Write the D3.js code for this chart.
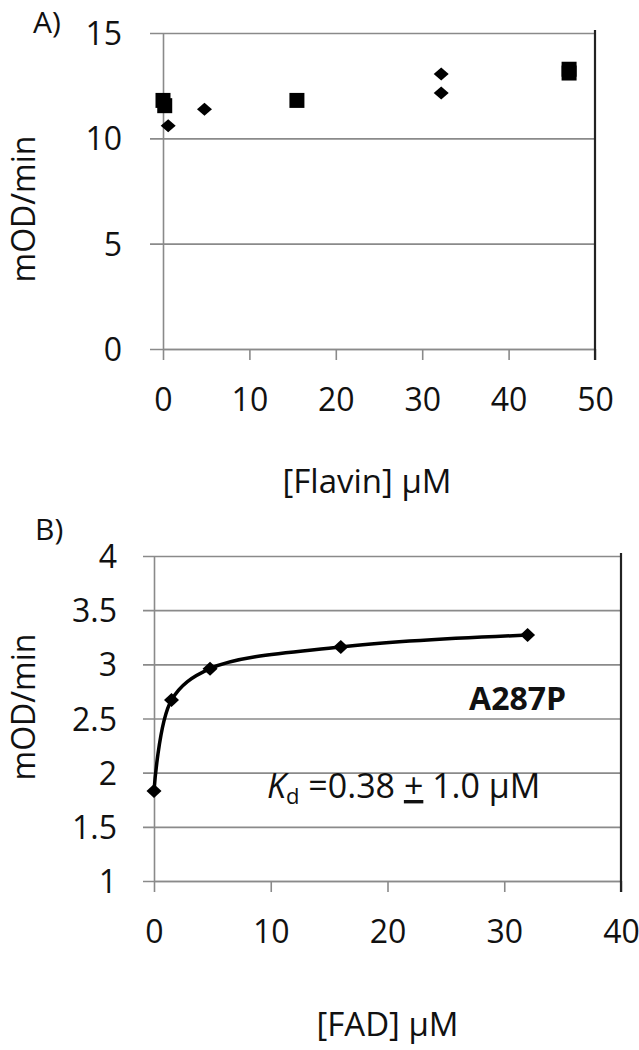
<!DOCTYPE html>
<meta charset="utf-8">
<script src="https://d3js.org/d3.v7.min.js"></script>
<style>
  body { margin: 0; background: #fff; }
  text { font-family: "Open Sans", sans-serif; fill: #111; }
</style>
<div id="my_dataviz"></div>
<script>

// ---- data ----
// panel A: rate vs [Flavin], two symbol series
var flavinSquareX  = [0, 0.2, 15.5, 47, 47];
var flavinSquareY  = [11.8, 11.55, 11.8, 13.28, 13.1];
var flavinDiamondX = [0.6, 4.8, 32.2, 32.2];
var flavinDiamondY = [10.6, 11.38, 13.05, 12.15];
var xTicksA = [0, 10, 20, 30, 40, 50];
var yTicksA = [0, 5, 10, 15];
var yTickLabelsA = ["0", "5", "10", "15"];

// panel B: rate vs [FAD], A287P fit
var fadConc = [0, 1.5, 4.8, 16, 32];
var fadRate = [1.83, 2.67, 2.96, 3.16, 3.27];
var xTicksB = [0, 10, 20, 30, 40];
var yTicksB = [1, 1.5, 2, 2.5, 3, 3.5, 4];
var yTickLabelsB = ["1", "1.5", "2", "2.5", "3", "3.5", "4"];

var W = 639, H = 1050;
var svg = d3.select("#my_dataviz")
  .append("svg")
    .attr("width", W)
    .attr("height", H);

svg.append("rect").attr("width", W).attr("height", H).attr("fill", "#fff");

var gridColor = "#8a8a8a";

// draws one panel frame (grid, axes, border, labels); returns the scales
function panel(cfg) {
  var g = svg.append("g")
    .attr("transform", "translate(" + cfg.left + "," + cfg.top + ")");
  var width = cfg.right - cfg.left,
      height = cfg.bottom - cfg.top;

  var x = d3.scaleLinear().domain(cfg.xDomain).range([0, width]);
  var y = d3.scaleLinear().domain(cfg.yDomain).range([height, 0]);

  // y axis + horizontal grid lines
  var yAxis = g.append("g")
    .call(d3.axisLeft(y)
      .tickValues(cfg.yTicks)
      .tickFormat(function(d, i) { return cfg.yLabels[i]; })
      .tickSizeInner(-width)
      .tickSizeOuter(0)
      .tickPadding(cfg.yPad));
  yAxis.select(".domain").attr("stroke", gridColor).attr("stroke-width", 1.6);
  yAxis.selectAll(".tick line")
    .attr("x1", -cfg.gridOut)
    .attr("stroke", gridColor)
    .attr("stroke-width", 1.6);
  yAxis.selectAll(".tick text")
    .attr("font-size", 32)
    .attr("font-family", "Open Sans")
    .attr("dy", "0.36em");

  // x axis
  var xAxis = g.append("g")
    .attr("transform", "translate(0," + height + ")")
    .call(d3.axisBottom(x)
      .tickValues(cfg.xTicks)
      .tickSizeInner(11)
      .tickSizeOuter(0));
  xAxis.select(".domain").attr("stroke", gridColor).attr("stroke-width", 1.6);
  xAxis.selectAll(".tick line").attr("stroke", gridColor).attr("stroke-width", 1.6);
  xAxis.selectAll(".tick text")
    .attr("font-size", 32)
    .attr("font-family", "Open Sans")
    .attr("y", 62)
    .attr("dy", null);

  // dark right border
  g.append("line")
    .attr("x1", width).attr("x2", width)
    .attr("y1", -3).attr("y2", height + 11)
    .attr("stroke", "#222")
    .attr("stroke-width", 2.2);

  // x title, measured down from the x axis
  g.append("text")
    .attr("x", width / 2 + cfg.xTitleShift)
    .attr("y", height + cfg.xTitleY)
    .attr("text-anchor", "middle")
    .attr("font-size", 33)
    .text(cfg.xTitle);

  svg.append("text")
    .attr("transform", "translate(35," + cfg.yTitleMid + ") rotate(-90)")
    .attr("text-anchor", "middle")
    .attr("font-size", 32)
    .text("mOD/min");

  svg.append("text")
    .attr("x", cfg.tagX)
    .attr("y", cfg.tagY)
    .attr("font-size", 30)
    .text(cfg.tag);

  return {g: g, x: x, y: y};
}

function diamond(sel, w, h) {
  sel.attr("d", "M0," + (-h / 2) + "L" + (w / 2) + ",0L0," + (h / 2) + "L" + (-w / 2) + ",0Z")
     .attr("fill", "#000");
}

// ---------- panel A ----------
var A = panel({
  left: 163, right: 595, top: 33, bottom: 349,
  xDomain: [0, 50], yDomain: [0, 15],
  xTicks: xTicksA, yTicks: yTicksA, yLabels: yTickLabelsA,
  yPad: 41, gridOut: 13,
  xTitle: "[Flavin] \u03BCM", xTitleY: 144, xTitleShift: -12,
  yTitleMid: 209, tag: "A)", tagX: 33, tagY: 33
});

A.g.selectAll(".sq")
  .data(d3.range(flavinSquareX.length))
  .enter()
  .append("path")
    .attr("class", "sq")
    .attr("d", d3.symbol().type(d3.symbolSquare).size(225))
    .attr("transform", function(i) {
      return "translate(" + A.x(flavinSquareX[i]) + "," + A.y(flavinSquareY[i]) + ")";
    })
    .attr("fill", "#000");

A.g.selectAll(".dm")
  .data(d3.range(flavinDiamondX.length))
  .enter()
  .append("path")
    .attr("class", "dm")
    .call(diamond, 15, 13)
    .attr("transform", function(i) {
      return "translate(" + A.x(flavinDiamondX[i]) + "," + A.y(flavinDiamondY[i]) + ")";
    });

// ---------- panel B ----------
var B = panel({
  left: 154, right: 621, top: 556, bottom: 881,
  xDomain: [0, 40], yDomain: [1, 4],
  xTicks: xTicksB, yTicks: yTicksB, yLabels: yTickLabelsB,
  yPad: 37, gridOut: 11,
  xTitle: "[FAD] \u03BCM", xTitleY: 155, xTitleShift: 0,
  yTitleMid: 707, tag: "B)", tagX: 35, tagY: 540
});

var fad = fadConc.map(function(c, i) { return {c: c, r: fadRate[i]}; });

B.g.append("path")
  .datum(fad)
  .attr("d", d3.line()
    .x(function(d) { return B.x(d.c); })
    .y(function(d) { return B.y(d.r); })
    .curve(d3.curveCatmullRom.alpha(0.5)))
  .attr("fill", "none")
  .attr("stroke", "#000")
  .attr("stroke-width", 3.5);

B.g.selectAll(".dm")
  .data(fad)
  .enter()
  .append("path")
    .attr("class", "dm")
    .call(diamond, 15, 14)
    .attr("transform", function(d) {
      return "translate(" + B.x(d.c) + "," + B.y(d.r) + ")";
    });

// annotations
B.g.append("text")
  .attr("x", B.x(32) - 10)
  .attr("y", B.y(2.58))
  .attr("text-anchor", "middle")
  .attr("font-size", 32)
  .attr("font-weight", "bold")
  .text("A287P");

var kd = B.g.append("text")
  .attr("x", 267 - 154)
  .attr("y", 798 - 556)
  .attr("font-size", 34);
kd.append("tspan").attr("font-style", "italic").text("K");
kd.append("tspan").attr("font-size", 22).attr("dy", 6).text("d");
kd.append("tspan").attr("dy", -6).text(" =0.38 ");
kd.append("tspan").attr("text-decoration", "underline").text("+");
kd.append("tspan").text(" 1.0 \u03BCM");

</script>
